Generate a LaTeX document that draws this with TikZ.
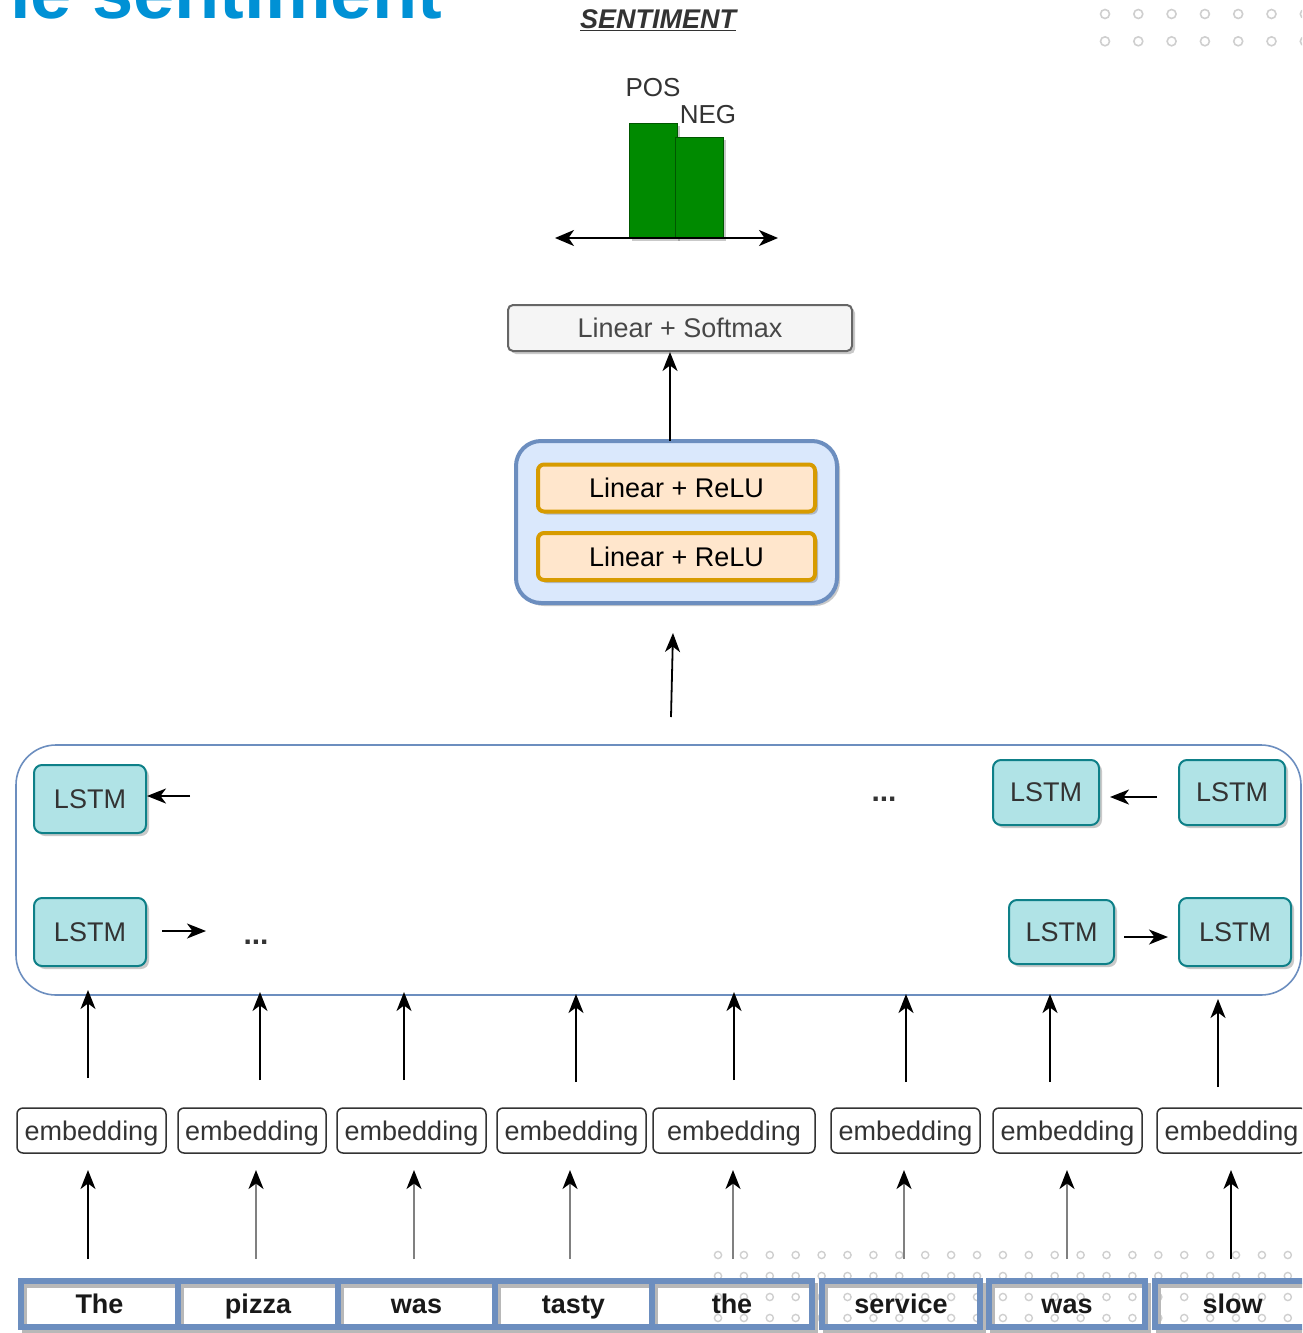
\documentclass[tikz,border=0pt]{standalone}
\usepackage{fontspec}
\setmainfont{Liberation Sans}
\usetikzlibrary{arrows.meta,shadows}
\definecolor{titleblue}{HTML}{0091D5}
\definecolor{lstmfill}{HTML}{B0E3E6}
\definecolor{lstmdraw}{HTML}{0E8088}
\definecolor{bluefill}{HTML}{DAE8FC}
\definecolor{bluedraw}{HTML}{6C8EBF}
\definecolor{orfill}{HTML}{FFE6CC}
\definecolor{ordraw}{HTML}{D79B00}
\definecolor{barg}{HTML}{008A00}
\definecolor{bard}{HTML}{005700}
\definecolor{dotgray}{HTML}{CFCFCF}
\definecolor{txt}{HTML}{333333}
\definecolor{smfill}{HTML}{F5F5F5}
\definecolor{smdraw}{HTML}{666666}
\definecolor{shaftgray}{HTML}{808080}
\tikzset{
  fs/.style={font=\fontsize{27}{32}\selectfont},
  shad/.style={drop shadow={shadow xshift=3pt,shadow yshift=-3pt,opacity=0.3,fill=black!70}},
  lstm/.style={fs,draw=lstmdraw,fill=lstmfill,line width=2pt,rounded corners=8pt,text=txt,inner sep=0pt,shad},
  emb/.style={fs,draw=txt,fill=white,line width=1.5pt,rounded corners=6pt,text=txt,inner sep=0pt,minimum height=45pt,text height=25pt,text depth=6pt},
  word/.style={fs,font=\fontsize{27}{32}\selectfont\bfseries,draw=bluedraw,line width=6pt,inner sep=0pt,minimum height=46pt,text=black!90,text height=22pt,text depth=4pt},
  orbox/.style={fs,draw=ordraw,fill=orfill,line width=4pt,rounded corners=6pt,inner sep=0pt,minimum width=277pt,minimum height=47pt,shad},
  arr/.style={line width=1.8pt,-{Stealth[length=19pt,width=15pt,inset=5.5pt]}},
  garr/.style={line width=2pt,draw=shaftgray,-{Stealth[length=19pt,width=15pt,inset=5.5pt,color=black]}},
  dots/.style={font=\fontsize{30}{34}\selectfont\bfseries,text=txt,inner sep=0pt,anchor=base},
}
\begin{document}
\begin{tikzpicture}[x=1pt,y=-1pt]
\useasboundingbox (0,0) rectangle (1302,1333);
\clip (0,0) rectangle (1302,1333);

% title (cropped)
\node[anchor=base west,text=titleblue,font=\fontsize{74}{80}\selectfont\bfseries,inner sep=0pt] (title) at (10,18) {le sentiment};

% decorative dots top right
\foreach \i in {0,...,6} \foreach \j in {0,1}
  \draw[dotgray,line width=1.6pt] ({1105+33.3*\i},{14+27.3*\j}) circle (4.5pt);

% sentiment chart
\node[font=\fontsize{27}{30}\selectfont\bfseries\itshape,text=txt,inner sep=0pt] (sent) at (658,20) {\underline{SENTIMENT}};
\draw[fill=barg,draw=bard,line width=1pt,shad] (629,123) rectangle (677,238);
\draw[fill=barg,draw=bard,line width=1pt,shad] (675,137) rectangle (723,238);
\coordinate (axl) at (555,238);
\coordinate (axr) at (778,238);
\draw[line width=2.2pt,{Stealth[length=19pt,width=16pt,inset=5.5pt]}-{Stealth[length=19pt,width=16pt,inset=5.5pt]}] (axl) -- (axr);
\node[font=\fontsize{26}{30}\selectfont,text=txt,inner sep=0pt] (pos) at (653,88) {POS};
\node[font=\fontsize{26}{30}\selectfont,text=txt,inner sep=0pt] (neg) at (708,115) {NEG};

% softmax
\node[fs,draw=smdraw,fill=smfill,line width=2pt,rounded corners=5pt,text=txt!90,minimum width=344pt,minimum height=46pt,inner sep=0pt,shad] (sm) at (680,328) {Linear + Softmax};

% MLP block
\node[draw=bluedraw,fill=bluefill,line width=4pt,rounded corners=25pt,minimum width=321pt,minimum height=162pt,shad] (mlp) at (676.5,522) {};
\node[orbox] (r1) at (676.5,488) {Linear + ReLU};
\node[orbox] (r2) at (676.5,556.5) {Linear + ReLU};
\coordinate (m1) at (670,441);
\draw[arr] (m1) -- (m1 |- sm.south);
\coordinate (c1) at (671,717);
\coordinate (c2) at (673,633);
\draw[arr] (c1) -- (c2);

% BiLSTM container
\draw[draw=bluedraw,line width=1.6pt,rounded corners=40pt] (16,745) rectangle (1301,995);
\node[lstm,minimum width=112pt,minimum height=68pt] (lt1) at (90,799) {LSTM};
\node[lstm,minimum width=112pt,minimum height=68pt] (lb1) at (90,932) {LSTM};
\node[lstm,minimum width=106pt,minimum height=65pt] (rt1) at (1046,792.5) {LSTM};
\node[lstm,minimum width=106pt,minimum height=65pt] (rt2) at (1232,792.5) {LSTM};
\node[lstm,minimum width=105pt,minimum height=64pt] (rb1) at (1061.5,932) {LSTM};
\node[lstm,minimum width=112pt,minimum height=68pt] (rb2) at (1235,932) {LSTM};
\node[dots] (d1) at (884,801) {...};
\node[dots] (d2) at (256,944) {...};
\coordinate (a1) at (190,796);
\draw[arr] (a1) -- (a1 -| lt1.east);
\coordinate (b1) at (1157,797);
\coordinate (b2) at (1110,797);
\draw[arr] (b1) -- (b2);
\coordinate (f1) at (162,931);
\coordinate (f2) at (206,931);
\draw[arr] (f1) -- (f2);
\coordinate (g1) at (1124,937);
\coordinate (g2) at (1168,937);
\draw[arr] (g1) -- (g2);

% embeddings
\node[emb,minimum width=149pt] (e1) at (91.5,1130.5) {embedding};
\node[emb,minimum width=148pt] (e2) at (252,1130.5) {embedding};
\node[emb,minimum width=149pt] (e3) at (411.5,1130.5) {embedding};
\node[emb,minimum width=149pt] (e4) at (571.5,1130.5) {embedding};
\node[emb,minimum width=162pt] (e5) at (734,1130.5) {embedding};
\node[emb,minimum width=149pt] (e6) at (905.5,1130.5) {embedding};
\node[emb,minimum width=149pt] (e7) at (1067.5,1130.5) {embedding};
\node[emb,minimum width=149pt] (e8) at (1231.5,1130.5) {embedding};

% arrows embedding -> LSTM
\foreach \x/\ys/\ye [count=\k] in {88/1078/990,260/1080/992,404/1080/992,576/1082/994,734/1080/992,906/1082/994,1050/1082/994,1218/1087/999}{
  \coordinate (us\k) at (\x,\ys);
  \coordinate (ue\k) at (\x,\ye);
  \draw[arr] (us\k) -- (ue\k);
}

% dots behind words
\foreach \i in {0,...,22} \foreach \j in {0,...,3}
  \draw[dotgray,line width=1.4pt] ({718+25.9*\i},{1255+21*\j}) circle (3.6pt);

% arrows word -> embedding
\foreach \x/\st [count=\k] in {88/arr,256/garr,414/garr,570/garr,733/garr,904/garr,1067/garr,1231/arr}{
  \coordinate (ws\k) at (\x,1259);
  \coordinate (we\k) at (\x,1170);
  \draw[\st] (ws\k) -- (we\k);
}

% word boxes with stroke shadow
\foreach \cx/\w in {99.5/157,258/160,416.5/157,573.5/157,732/160,901/158,1067/156,1232.5/155}{
  \draw[black!28,line width=5pt] ({\cx-\w/2+3},{1281+4}) rectangle ({\cx+\w/2+3},{1327+4});
}
\node[word,minimum width=157pt] (w1) at (99.5,1304) {The};
\node[word,minimum width=160pt] (w2) at (258,1304) {pizza};
\node[word,minimum width=157pt] (w3) at (416.5,1304) {was};
\node[word,minimum width=157pt] (w4) at (573.5,1304) {tasty};
\node[word,minimum width=160pt] (w5) at (732,1304) {the};
\node[word,minimum width=158pt] (w6) at (901,1304) {service};
\node[word,minimum width=156pt] (w7) at (1067,1304) {was};
\node[word,minimum width=155pt] (w8) at (1232.5,1304) {slow};
\end{tikzpicture}
\end{document}
